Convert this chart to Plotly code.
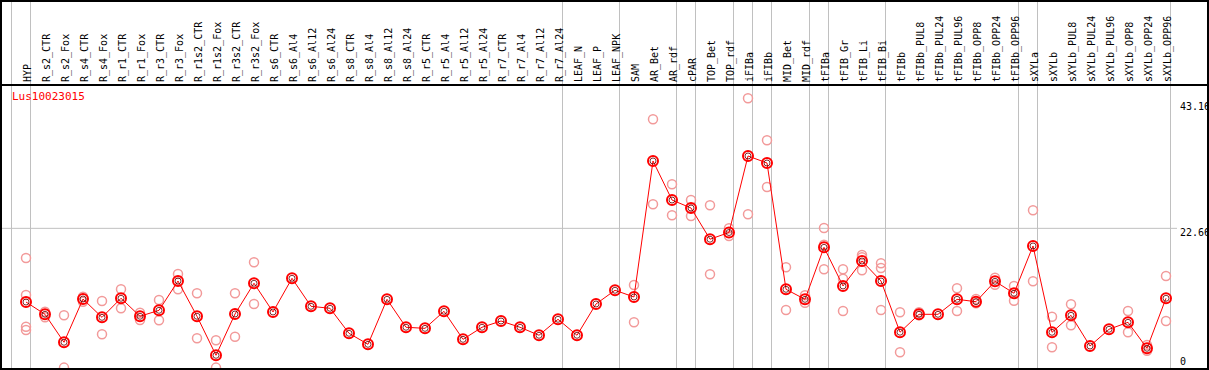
import plotly.graph_objects as go

# ---------------- data ----------------
categories = [
    "HYP", "R_s2_CTR", "R_s2_Fox", "R_s4_CTR", "R_s4_Fox", "R_r1_CTR", "R_r1_Fox",
    "R_r3_CTR", "R_r3_Fox", "R_r1s2_CTR", "R_r1s2_Fox", "R_r3s2_CTR", "R_r3s2_Fox",
    "R_s6_CTR", "R_s6_Al4", "R_s6_Al12", "R_s6_Al24", "R_s8_CTR", "R_s8_Al4",
    "R_s8_Al12", "R_s8_Al24", "R_r5_CTR", "R_r5_Al4", "R_r5_Al12", "R_r5_Al24",
    "R_r7_CTR", "R_r7_Al4", "R_r7_Al12", "R_r7_Al24", "LEAF_N", "LEAF_P", "LEAF_NPK",
    "SAM", "AR_Bet", "AR_rdf", "cPAR", "TOP_Bet", "TOP_rdf", "iFIBa", "iFIBb",
    "MID_Bet", "MID_rdf", "tFIBa", "tFIB_Gr", "tFIB_Li", "tFIB_Bi", "tFIBb",
    "tFIBb_PUL8", "tFIBb_PUL24", "tFIBb_PUL96", "tFIBb_OPP8", "tFIBb_OPP24",
    "tFIBb_OPP96", "sXYLa", "sXYLb", "sXYLb_PUL8", "sXYLb_PUL24", "sXYLb_PUL96",
    "sXYLb_OPP8", "sXYLb_OPP24", "sXYLb_OPP96",
]

mean_values = [
    10.67, 8.67, 4.12, 11.16, 8.18, 11.28, 8.35, 9.32, 14.09, 8.35, 2.00, 8.72, 13.72,
    9.05, 14.53, 9.97, 9.65, 5.58, 3.79, 11.11, 6.56, 6.39, 9.16, 4.60, 6.56,
    7.58, 6.56, 5.26, 7.86, 5.26, 10.35, 12.58,
    11.49, 33.62, 27.27, 25.97, 20.89, 21.98, 34.43, 33.29, 12.74, 11.11,
    19.57, 13.28, 17.34, 14.09, 5.76, 8.67, 8.67, 11.11, 10.72, 14.04, 12.09,
    19.79, 5.74, 8.51, 3.51, 6.23, 7.37, 3.14, 11.28,
]

replicate_values = [
    [17.83, 11.81, 6.65, 6.12], [9.10, 8.18], [8.51, 0.0], [11.54, 10.72], [10.84, 5.42],
    [12.74, 9.65], [8.93, 7.74], [11.00, 7.70], [15.23, 12.74], [12.09, 4.77],
    [4.44, 0.0], [12.09, 5.03], [17.13, 10.35],
    [], [], [], [], [], [], [], [], [], [], [], [], [], [], [], [], [], [], [],
    [13.44, 7.37], [40.40, 26.57], [29.82, 24.78], [27.27, 24.67], [26.41, 15.18],
    [22.67, 21.41], [43.82, 24.94], [36.98, 29.38], [16.32, 9.37], [11.76, 10.56],
    [22.71, 20.00, 15.99], [15.99, 14.46, 9.21], [18.32, 17.95, 15.83],
    [16.97, 16.21, 9.37], [9.00, 2.51], [9.00, 8.51], [], [12.90, 9.21],
    [10.46, 11.16], [14.63, 13.49], [13.28, 10.89], [25.59, 14.04], [8.28, 3.30],
    [10.30, 6.88], [], [], [9.21, 5.74], [3.68, 2.75], [14.90, 7.58],
]

y_tick_values = [43.16, 22.66, 0]
y_tick_labels = ["43.16", "22.66", "0"]
grid_values = [22.66]
group_separators = [-1, 0, 28, 31, 34, 35, 37, 38, 39, 41, 42, 45, 52, 53, 60]
gene_id = "Lus10023015"

# ---------------- geometry (pixels) ----------------
W, H = 1209, 370
header_px = 85
x0_px, step_px = 26, 19
y0_px, unit_px = 367.6, 6.146
grid_end_px = 1177
label_left_px = 1178

x_range = [-x0_px / step_px, (W - x0_px) / step_px]
y_range = [-(H - y0_px) / unit_px, (y0_px - header_px) / unit_px]

idx = list(range(len(categories)))
rep_x, rep_y = [], []
for i, reps in enumerate(replicate_values):
    for v in reps:
        rep_x.append(i)
        rep_y.append(v)

MONO = "DejaVu Sans Mono"

fig = go.Figure()
fig.add_trace(go.Scatter(
    x=rep_x, y=rep_y, mode="markers",
    marker=dict(symbol="circle-open", size=9, color="#f29a9a", line=dict(width=1.5)),
    hoverinfo="skip",
))
fig.add_trace(go.Scatter(
    x=idx, y=mean_values, mode="lines+markers",
    line=dict(color="#ff0000", width=1),
    marker=dict(symbol="circle-open", size=10, color="#ff0000", line=dict(width=2)),
))
fig.add_trace(go.Scatter(
    x=idx, y=mean_values, mode="markers",
    marker=dict(symbol="circle-open", size=6, color="#5a0000", line=dict(width=0.8)),
    hoverinfo="skip",
))

shapes = []
for g in grid_values:
    shapes.append(dict(type="line", xref="x", yref="y",
                       x0=x_range[0], x1=(grid_end_px - x0_px) / step_px, y0=g, y1=g,
                       line=dict(color="#c0c0c0", width=1), layer="below"))
for s in group_separators:
    xs = s + 4.5 / step_px
    shapes.append(dict(type="line", xref="x", yref="paper", x0=xs, x1=xs, y0=0, y1=1,
                       line=dict(color="#c0c0c0", width=1), layer="below"))
shapes.append(dict(type="line", xref="paper", yref="paper", x0=0, x1=1,
                   y0=(H - header_px) / H, y1=(H - header_px) / H,
                   line=dict(color="#000000", width=2)))
shapes.append(dict(type="rect", xref="paper", yref="paper",
                   x0=1 / W, x1=(W - 1) / W, y0=1 / H, y1=(H - 1) / H,
                   line=dict(color="#000000", width=2)))

annotations = [dict(
    text=gene_id, xref="paper", yref="paper", x=9.5 / W, y=(H - 96.5) / H,
    xanchor="left", yanchor="middle", showarrow=False,
    font=dict(family=MONO, size=11, color="#ff0000"),
)]
for v, t in zip(y_tick_values, y_tick_labels):
    annotations.append(dict(
        text=t, xref="paper", yref="y", x=label_left_px / W, y=v,
        xanchor="left", yanchor="middle", showarrow=False,
        yshift=(6 if v == 0 else -4.5),
        font=dict(family=MONO, size=10, color="#000000"),
    ))

fig.update_layout(
    width=W, height=H,
    margin=dict(l=0, r=0, t=0, b=0),
    paper_bgcolor="white", plot_bgcolor="white",
    showlegend=False,
    xaxis=dict(range=x_range, side="top", tickmode="array", tickvals=idx,
               ticktext=categories, tickangle=-90, ticks="",
               ticklabelshift=2, ticklabelstandoff=2,
               tickfont=dict(family=MONO, size=10, color="#000000"),
               showgrid=False, zeroline=False, showline=False, fixedrange=True),
    yaxis=dict(range=y_range, domain=[0, (H - header_px) / H], showgrid=False,
               zeroline=False, showticklabels=False, showline=False, fixedrange=True),
    shapes=shapes,
    annotations=annotations,
)

fig.write_html("out.html", config={"displayModeBar": False},
               post_script="document.body.style.margin='0';document.body.style.padding='0';")
